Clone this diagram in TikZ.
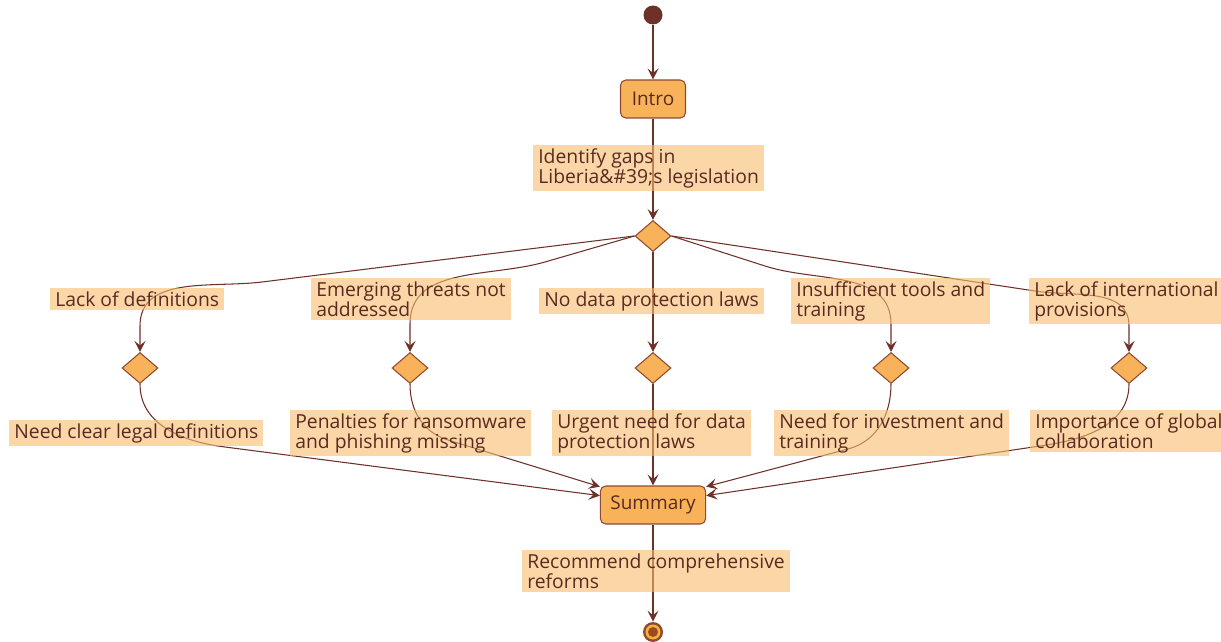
\documentclass[tikz,border=0pt]{standalone}
\usepackage{fontspec}
\setmainfont{Open Sans}
\usetikzlibrary{arrows.meta,positioning,shapes.geometric}
\definecolor{Ink}{HTML}{5A2A22}
\definecolor{Wire}{HTML}{6E3128}
\definecolor{Rim}{HTML}{8E4A30}
\definecolor{Fill}{HTML}{F8B25A}
\definecolor{Tag}{HTML}{F8BC6E}
\definecolor{Gold}{HTML}{F0B43A}
\definecolor{Core}{HTML}{A0481F}
\tikzset{
  act/.style={draw=Rim,fill=Fill,line width=.6pt,rounded corners=3pt,minimum height=.76cm,align=center,inner xsep=.2cm,text=Ink,font=\fontsize{10.8}{12}\selectfont},
  choice/.style={diamond,draw=Rim,fill=Fill,line width=.6pt,minimum width=.72cm,minimum height=.62cm,inner sep=0pt},
  tag/.style={fill=Tag,fill opacity=.6,text opacity=1,text=Ink,align=left,anchor=north west,inner xsep=.1cm,inner ysep=.065cm,font=\fontsize{11}{11.5}\selectfont},
  flow/.style={-{Stealth[length=2.2mm,width=2.2mm,inset=.9mm]},draw=Wire,line width=.6pt},
  dot/.style={circle,inner sep=0pt}
}
\begin{document}
\begin{tikzpicture}[x=.02cm,y=-.02cm]
  \useasboundingbox (0,0) rectangle (1221,642);
  \node[dot,fill=Wire,minimum size=.38cm] (start) at (653,15) {};
  \node[act,minimum width=1.3cm] (intro) at (653,99) {Intro};
  \node[choice] (d0) at (653,236) {};
  \node[choice] (b1) at (140,368) {};
  \node[choice] (b2) at (410,368) {};
  \node[choice] (b3) at (653,368) {};
  \node[choice] (b4) at (891,368) {};
  \node[choice] (b5) at (1129,368) {};
  \node[act,minimum width=2.08cm] (summary) at (653,505) {Summary};
  \node[dot,fill=Rim,minimum size=.4cm] (stop) at (653,632) {};
  \node[dot,fill=Gold,minimum size=.3cm] (stopring) at (stop) {};
  \node[dot,fill=Core,minimum size=.2cm] (stopcore) at (stop) {};
  % bends of the connectors
  \coordinate (k1) at (262,282); \coordinate (v1) at (140,326);
  \coordinate (k2) at (545,262); \coordinate (v2) at (410,324);
  \coordinate (k4) at (765,266); \coordinate (v4) at (891,324);
  \coordinate (k5) at (1035,291); \coordinate (v5) at (1129,326);
  \coordinate (m1) at (225,447);
  \coordinate (m2) at (448,440);
  \coordinate (m4) at (848,449);
  \coordinate (m5) at (1040,446);
  \draw[flow] (start) -- (intro);
  \draw[flow] (intro) -- (d0);
  \draw[flow] (d0.west) -- (k1) to[out=187,in=90] (v1) -- (b1.north);
  \draw[flow] (d0.west) -- (k2) to[out=196,in=90] (v2) -- (b2.north);
  \draw[flow] (d0) -- (b3);
  \draw[flow] (d0.east) -- (k4) to[out=-18,in=90] (v4) -- (b4.north);
  \draw[flow] (d0.east) -- (k5) to[out=-9,in=90] (v5) -- (b5.north);
  \draw[flow] (b1.south) to[out=-90,in=173] (m1) -- (summary.170);
  \draw[flow] (b2.south) to[out=-90,in=163] (m2) -- (summary.161);
  \draw[flow] (b3) -- (summary);
  \draw[flow] (b4.south) to[out=-90,in=15] (m4) -- (summary.19);
  \draw[flow] (b5.south) to[out=-90,in=8] (m5) -- (summary.10);
  \draw[flow] (summary) -- (stop);
  \node[tag] (gaps) at (533,145) {Identify gaps in\\Liberia\&\#39;s legislation};
  \node[tag] (nodefs) at (50,288) {Lack of definitions};
  \node[tag] (threats) at (311,278) {Emerging threats not\\addressed};
  \node[tag] (nodata) at (539,288) {No data protection laws};
  \node[tag] (tools) at (791,278) {Insufficient tools and\\training};
  \node[tag] (intl) at (1029,278) {Lack of international\\provisions};
  \node[tag] (clear) at (9,420) {Need clear legal definitions};
  \node[tag] (penalties) at (290,410) {Penalties for ransomware\\and phishing missing};
  \node[tag] (urgent) at (552,410) {Urgent need for data\\protection laws};
  \node[tag] (invest) at (774,410) {Need for investment and\\training};
  \node[tag] (global) at (1030,410) {Importance of global\\collaboration};
  \node[tag] (reforms) at (522,550) {Recommend comprehensive\\reforms};
\end{tikzpicture}
\end{document}
